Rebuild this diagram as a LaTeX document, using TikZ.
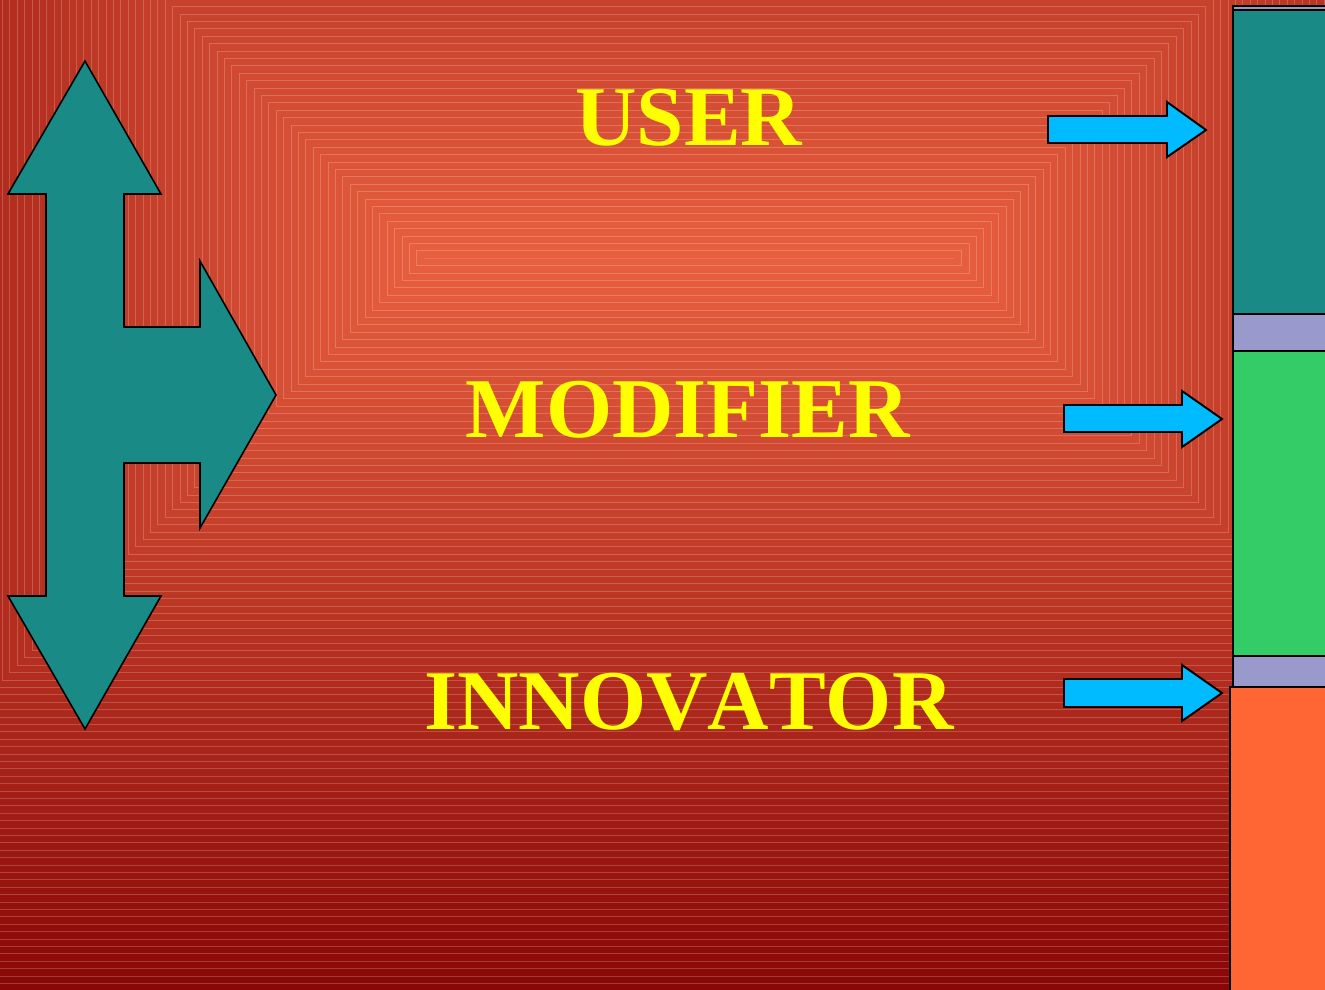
\documentclass[tikz,border=0pt]{standalone}
\usepackage{fontspec}
\setmainfont[Kerning=Off]{Liberation Serif}
\definecolor{bgA}{HTML}{E9603F}
\definecolor{bgB}{HTML}{8A0707}
\definecolor{tealA}{HTML}{1A8A87}
\definecolor{blueA}{HTML}{00BBFF}
\definecolor{lavA}{HTML}{9999CC}
\definecolor{greenA}{HTML}{33CC66}
\definecolor{orangeA}{HTML}{FF6633}
\definecolor{yellowA}{HTML}{FFFF00}
\tikzset{
  ring/.style={fill=ringc, draw=white, draw opacity=0.2, line width=0.3pt},
  bigarrow/.style={fill=tealA, draw=black, line width=0.9pt, line join=miter},
  bluearrow/.style={fill=blueA, draw=black, line width=1.1pt, line join=miter},
  bar/.style={draw=black, line width=0.9pt},
  label/.style={font=\bfseries\fontsize{48.4}{48.4}\selectfont, text=yellowA, inner sep=0pt}
}
\begin{document}
\begin{tikzpicture}[x=0.02cm,y=-0.02cm]
\useasboundingbox (0,0) rectangle (1325,990);
\begin{scope}
\clip (0,0) rectangle (1325,990);
\foreach \i in {100,99,...,0}{
  \pgfmathsetmacro\d{\i*7.4}
  \pgfmathsetmacro\p{min(100,\d/7.32)}
  \colorlet{ringc}{bgB!\p!bgA}
  \filldraw[ring] (424-\d,258-\d) rectangle (954+\d,258+\d);
}
\end{scope}
% big double arrow
\draw[bigarrow] (85,61) -- (161,194) -- (124,194) -- (124,327) -- (200,327) -- (200,261)
  -- (276,395) -- (200,528) -- (200,463) -- (124,463) -- (124,596) -- (161,596)
  -- (85,729) -- (8,596) -- (46,596) -- (46,194) -- (8,194) -- cycle;
% right bars
\begin{scope}
\clip (0,0) rectangle (1325,990);
\draw[bar, fill=lavA] (1233,6) rectangle (1340,10);
\draw[bar, fill=tealA] (1233,10) rectangle (1340,314);
\draw[bar, fill=lavA] (1233,314) rectangle (1340,351);
\draw[bar, fill=greenA] (1233,351) rectangle (1340,656);
\draw[bar, fill=lavA] (1233,656) rectangle (1340,687);
\draw[bar, fill=orangeA] (1230,687) rectangle (1340,1000);
\end{scope}
% blue arrows
\draw[bluearrow] (1048,116) -- (1167,116) -- (1167,102) -- (1206,130) -- (1167,157) -- (1167,143) -- (1048,143) -- cycle;
\draw[bluearrow] (1064,405) -- (1182,405) -- (1182,391) -- (1222,419) -- (1182,447) -- (1182,432) -- (1064,432) -- cycle;
\draw[bluearrow] (1064,679) -- (1182,679) -- (1182,665) -- (1222,693) -- (1182,721) -- (1182,707) -- (1064,707) -- cycle;
% labels
\node[label] (user) at (689,118) {USER};
\node[label] (modifier) at (688,410) {MODIFIER};
\node[label] (innovator) at (689,702) {INNOVATOR};
\end{tikzpicture}
\end{document}
